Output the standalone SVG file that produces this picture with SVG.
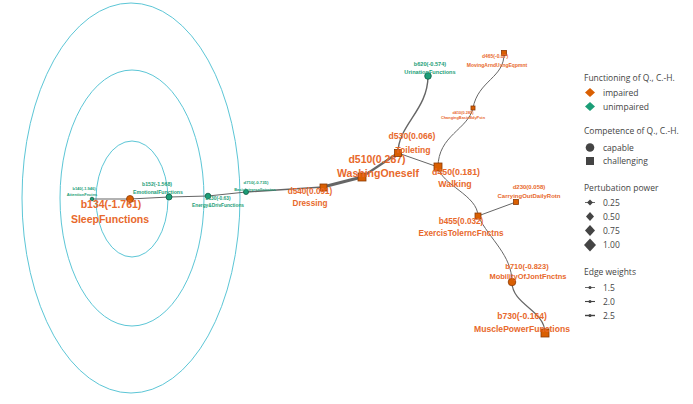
<svg xmlns="http://www.w3.org/2000/svg" width="693" height="404" viewBox="0 0 693 404">
<style>
.ring{fill:none;stroke:#5cc6d6;stroke-width:1}
.e{fill:none;stroke:#666;stroke-linecap:round}
.lo{font-family:"Liberation Sans",Arial,sans-serif;font-weight:bold;fill:#e8692c;text-anchor:middle}
.lg{font-family:"Liberation Sans",Arial,sans-serif;font-weight:bold;fill:#1b9e77;text-anchor:middle}
.imp{fill:#d95f02;stroke:#8a3a05;stroke-width:0.8}
.uni{fill:#1b9e77;stroke:#0e5e46;stroke-width:0.8}
.leg{font-family:"Open Sans","Noto Sans",sans-serif;font-size:8.5px;fill:#444}
.legk{fill:#444}
</style>
<rect width="693" height="404" fill="#fff"/>
<g id="rings">
<ellipse class="ring" cx="131" cy="198" rx="109" ry="195"/>
<ellipse class="ring" cx="132" cy="198" rx="72" ry="128"/>
<ellipse class="ring" cx="132" cy="199" rx="36" ry="58"/>
</g>
<g id="connectors">
<path class="e" stroke-width="1.2" d="M92 199 L130 199"/>
<path class="e" stroke-width="1.2" d="M130 199 L169 197"/>
<path class="e" stroke-width="1.2" d="M169 197 L208 196"/>
<path class="e" stroke-width="1.2" d="M208 196 L246 192"/>
<path class="e" stroke-width="1.4" d="M246 192 L323 187"/>
<path class="e" stroke-width="3" d="M323 187 L362 177"/>
<path class="e" stroke-width="2.2" d="M362 177 L398 153"/>
<path class="e" stroke-width="1" d="M398 153 L438 167"/>
<path class="e" stroke-width="1.4" d="M398 153 C398 125 428 110 428 76"/>
<path class="e" stroke-width="1" d="M438 167 C438 135 468 130 473 108"/>
<path class="e" stroke-width="1" d="M473 108 C478 80 505 78 504 53"/>
<path class="e" stroke-width="1" d="M438 167 C441 185 478 195 478 216"/>
<path class="e" stroke-width="1" d="M478 216 L516 202"/>
<path class="e" stroke-width="1" d="M478 216 C490 240 512 255 512 282"/>
<path class="e" stroke-width="1.2" d="M512 282 C512 305 545 310 545 333"/>
</g>
<g id="b140">
<circle class="uni" cx="92" cy="199" r="1.8"/>
<text class="lg" x="84" y="190" font-size="4">b140(-1.946)</text>
<text class="lg" x="82" y="196" font-size="4">AttentionFnctns</text>
</g>
<g id="b134">
<circle class="imp" cx="130" cy="199" r="3.5"/>
<text class="lo" x="111" y="208" font-size="10.5">b134(-1.761)</text>
<text class="lo" x="110" y="223" font-size="10.5">SleepFunctions</text>
</g>
<g id="b152">
<circle class="uni" cx="169" cy="197" r="3"/>
<text class="lg" x="157" y="186" font-size="5.2">b152(-1.568)</text>
<text class="lg" x="158" y="194" font-size="5.2">EmotionalFunctions</text>
</g>
<g id="b130">
<circle class="uni" cx="208" cy="196" r="2.8"/>
<text class="lg" x="218" y="200" font-size="4.8">b130(-0.63)</text>
<text class="lg" x="218" y="207" font-size="4.8">Energy&amp;DrivFunctions</text>
</g>
<g id="d710">
<circle class="uni" cx="246" cy="192" r="2.5"/>
<text class="lg" x="256" y="184" font-size="4.3">d710(-0.735)</text>
<text class="lg" x="255" y="191" font-size="4">BasicIntrprsnlIntrctns</text>
</g>
<g id="d540">
<rect class="imp" x="320" y="184" width="7" height="7"/>
<text class="lo" x="310" y="194" font-size="8.2">d540(0.091)</text>
<text class="lo" x="310" y="206" font-size="8.2">Dressing</text>
</g>
<g id="d510">
<rect class="imp" x="358" y="173" width="8" height="8"/>
<text class="lo" x="377" y="163" font-size="10.5">d510(0.287)</text>
<text class="lo" x="378" y="177" font-size="10.5">WashingOneself</text>
</g>
<g id="d530">
<rect class="imp" x="394.5" y="149.5" width="7" height="7"/>
<text class="lo" x="412" y="139" font-size="8.6">d530(0.066)</text>
<text class="lo" x="413" y="153" font-size="8.6">Toileting</text>
</g>
<g id="b620">
<circle class="uni" cx="428" cy="76" r="3.3"/>
<text class="lg" x="430" y="66" font-size="5.6">b620(-0.574)</text>
<text class="lg" x="430" y="74" font-size="5.6">UrinationFunctions</text>
</g>
<g id="d465">
<rect class="imp" x="501.5" y="50.5" width="5" height="5"/>
<text class="lo" x="495" y="58" font-size="5">d465(-0.07)</text>
<text class="lo" x="497" y="67" font-size="5">MovingArndUsngEqpmnt</text>
</g>
<g id="d410">
<rect class="imp" x="471" y="106" width="4" height="4"/>
<text class="lo" x="463" y="114" font-size="3.9">d410(0.285)</text>
<text class="lo" x="463" y="118.5" font-size="3.9">ChangingBasicBdyPstn</text>
</g>
<g id="d450">
<rect class="imp" x="434" y="163" width="8" height="8"/>
<text class="lo" x="456" y="175" font-size="8.8">d450(0.181)</text>
<text class="lo" x="455" y="187" font-size="8.8">Walking</text>
</g>
<g id="d230">
<rect class="imp" x="513.5" y="199.5" width="5" height="5"/>
<text class="lo" x="529" y="189" font-size="6">d230(0.058)</text>
<text class="lo" x="529" y="198" font-size="6">CarryingOutDailyRotn</text>
</g>
<g id="b455">
<rect class="imp" x="475" y="213" width="6" height="6"/>
<text class="lo" x="461" y="224" font-size="8.2">b455(0.032)</text>
<text class="lo" x="461" y="236" font-size="8.2">ExercisTolerncFnctns</text>
</g>
<g id="b710">
<circle class="imp" cx="512" cy="282" r="3.8"/>
<text class="lo" x="527" y="269" font-size="7.5">b710(-0.823)</text>
<text class="lo" x="528" y="279" font-size="7.5">MobilityOfJontFnctns</text>
</g>
<g id="b730">
<rect class="imp" x="541" y="329" width="8" height="8"/>
<text class="lo" x="522" y="319" font-size="8.6">b730(-0.164)</text>
<text class="lo" x="522" y="332" font-size="8.6">MusclePowerFunctions</text>
</g>
<g id="legend">
<text class="leg" x="584" y="81">Functioning of Q., C.-H.</text>
<path fill="#d95f02" d="M590 88 L595 92.5 L590 97 L585 92.5Z"/>
<text class="leg" x="603" y="95.5">impaired</text>
<path fill="#1b9e77" d="M590 102 L595 106.5 L590 111 L585 106.5Z"/>
<text class="leg" x="603" y="109.5">unimpaired</text>
<text class="leg" x="584" y="134">Competence of Q., C.-H.</text>
<circle class="legk" cx="590" cy="147.5" r="4.3"/>
<text class="leg" x="603" y="150.5">capable</text>
<rect class="legk" x="586" y="157" width="8" height="8"/>
<text class="leg" x="603" y="164">challenging</text>
<text class="leg" x="584" y="191">Pertubation power</text>
<line x1="585" y1="202.5" x2="595" y2="202.5" stroke="#444" stroke-width="0.8"/>
<path class="legk" d="M590 199.5 L593 202.5 L590 205.5 L587 202.5Z"/>
<text class="leg" x="603" y="205.5">0.25</text>
<path class="legk" d="M590 212 L594 216.5 L590 221 L586 216.5Z"/>
<text class="leg" x="603" y="219.5">0.50</text>
<path class="legk" d="M590 225 L595 230.5 L590 236 L585 230.5Z"/>
<text class="leg" x="603" y="233.5">0.75</text>
<path class="legk" d="M590 238.5 L596 245 L590 251.5 L584 245Z"/>
<text class="leg" x="603" y="248">1.00</text>
<text class="leg" x="584" y="275">Edge weights</text>
<line x1="585" y1="287.5" x2="595" y2="287.5" stroke="#444" stroke-width="0.8"/>
<circle class="legk" cx="590" cy="287.5" r="1.5"/>
<text class="leg" x="603" y="290.5">1.5</text>
<line x1="585" y1="301.5" x2="595" y2="301.5" stroke="#444" stroke-width="1.1"/>
<circle class="legk" cx="590" cy="301.5" r="1.5"/>
<text class="leg" x="603" y="304.5">2.0</text>
<line x1="585" y1="315.5" x2="595" y2="315.5" stroke="#444" stroke-width="1.4"/>
<circle class="legk" cx="590" cy="315.5" r="1.5"/>
<text class="leg" x="603" y="318.5">2.5</text>
</g>
</svg>
